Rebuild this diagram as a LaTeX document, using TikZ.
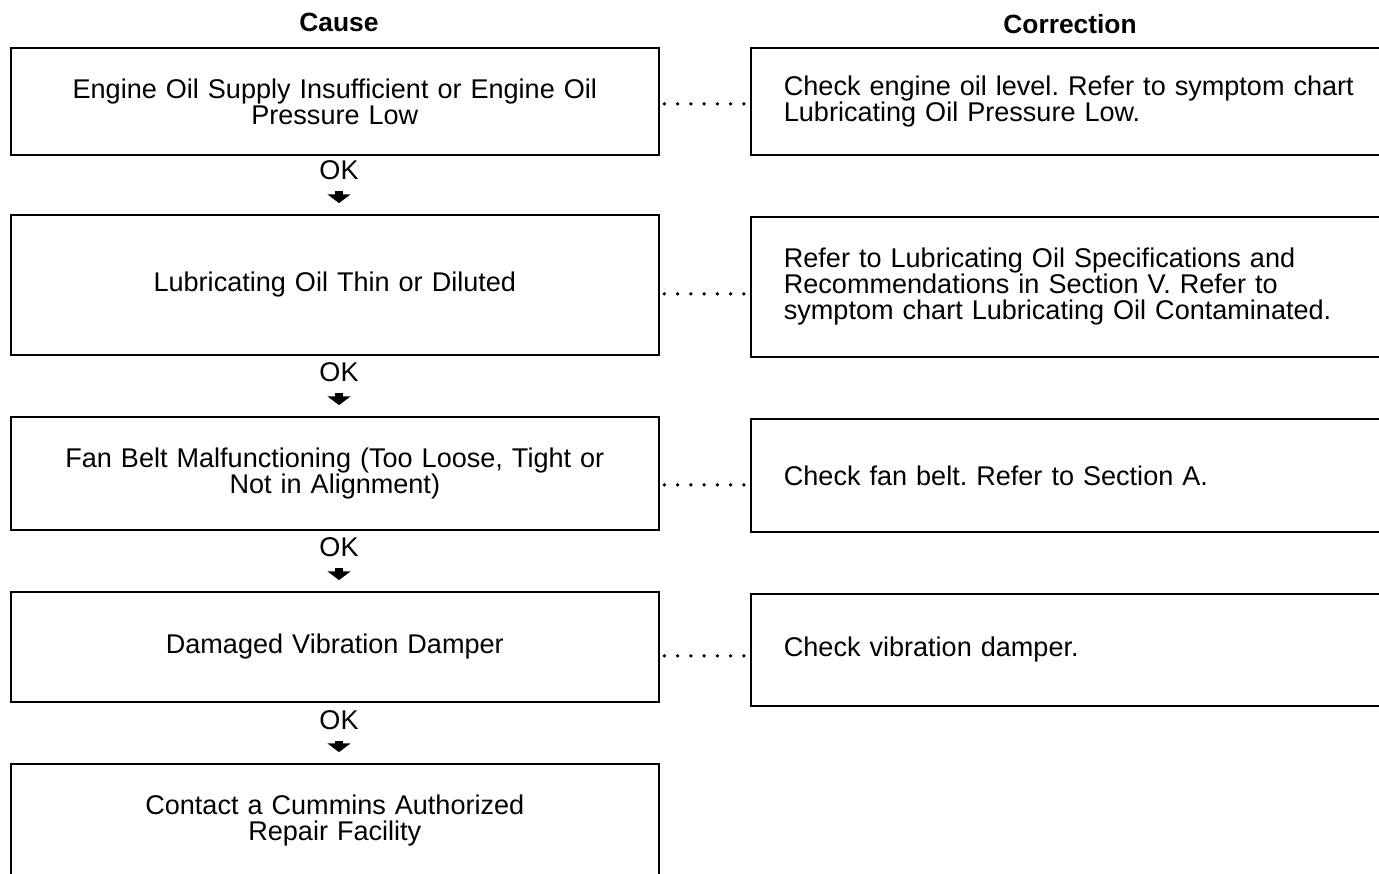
\documentclass[tikz,border=0pt]{standalone}
\usepackage{fontspec}
\setmainfont{Liberation Sans}
\usetikzlibrary{arrows.meta}
\frenchspacing

\begin{document}
\begin{tikzpicture}[x=0.02cm, y=-0.02cm,
  txt/.style={font=\fontsize{15.4pt}{14.8pt}\selectfont},
  head/.style={font=\fontsize{15pt}{14.8pt}\selectfont\bfseries},
  causebox/.style={txt, draw, line width=1pt, anchor=north west,
    text width=12cm, align=center, minimum width=12.96cm},
  corrbox/.style={txt, draw, line width=1pt, anchor=north west,
    text width=12.8cm, inner xsep=0.66cm, align=left},
  oklabel/.style={txt, inner sep=0pt},
  okarrow/.style={line width=4.5pt, -{Triangle[width=13pt, length=5pt]},
    shorten <=6.5pt, shorten >=6.2pt},
  dotline/.style={line width=2.1pt, line cap=round,
    dash pattern=on 0pt off 7.55pt, dash phase=4.9pt}]

  % --- 1. page frame ---
  \useasboundingbox (0,0) rectangle (1379,874);
  \clip (0,0) rectangle (1379,874);

  % --- 2. column heads ---
  \node[head] (hcause) at (339,22) {Cause};
  \node[head] (hcorr) at (1070,24) {Correction};

  % --- 3. cause boxes (left column) ---
  \node[causebox, minimum height=2.14cm] (c1) at (10,47)
    {Engine Oil Supply Insufficient or Engine Oil\\Pressure Low};
  \node[causebox, minimum height=2.8cm] (c2) at (10,214)
    {Lubricating Oil Thin or Diluted};
  \node[causebox, minimum height=2.26cm] (c3) at (10,416)
    {Fan Belt Malfunctioning (Too Loose, Tight or\\Not in Alignment)};
  \node[causebox, minimum height=2.2cm] (c4) at (10,591)
    {Damaged Vibration Damper};
  \node[causebox, minimum height=2.28cm] (c5) at (10,763)
    {Contact a Cummins Authorized\\Repair Facility};

  % --- 4. correction boxes (right column, cut at the page edge) ---
  \node[corrbox, minimum height=2.14cm] (r1) at (750,47)
    {Check engine oil level. Refer to symptom chart\\Lubricating Oil Pressure Low.};
  \node[corrbox, minimum height=2.8cm] (r2) at (750,216)
    {Refer to Lubricating Oil Specifications and\\Recommendations in Section V. Refer to\\symptom chart Lubricating Oil Contaminated.};
  \node[corrbox, minimum height=2.26cm] (r3) at (750,418)
    {Check fan belt. Refer to Section A.};
  \node[corrbox, minimum height=2.24cm] (r4) at (750,593)
    {Check vibration damper.};

  % --- 5. OK steps ---
  \node[oklabel] (ok1) at (339,170) {OK};
  \node[oklabel] (ok2) at (339,372) {OK};
  \node[oklabel] (ok3) at (339,547) {OK};
  \node[oklabel] (ok4) at (339,720) {OK};

  \draw[okarrow] (ok1.south) -- (ok1.south |- c2.north);
  \draw[okarrow] (ok2.south) -- (ok2.south |- c3.north);
  \draw[okarrow] (ok3.south) -- (ok3.south |- c4.north);
  \draw[okarrow] (ok4.south) -- (ok4.south |- c5.north);

  % --- 6. dotted leaders cause -> correction ---
  \draw[dotline] ([yshift=-0.05cm]c1.east) -- ([yshift=-0.05cm]c1.east -| r1.west);
  \draw[dotline] ([yshift=-0.18cm]c2.east) -- ([yshift=-0.18cm]c2.east -| r2.west);
  \draw[dotline] ([yshift=-0.23cm]c3.east) -- ([yshift=-0.23cm]c3.east -| r3.west);
  \draw[dotline] ([yshift=-0.18cm]c4.east) -- ([yshift=-0.18cm]c4.east -| r4.west);

\end{tikzpicture}
\end{document}
